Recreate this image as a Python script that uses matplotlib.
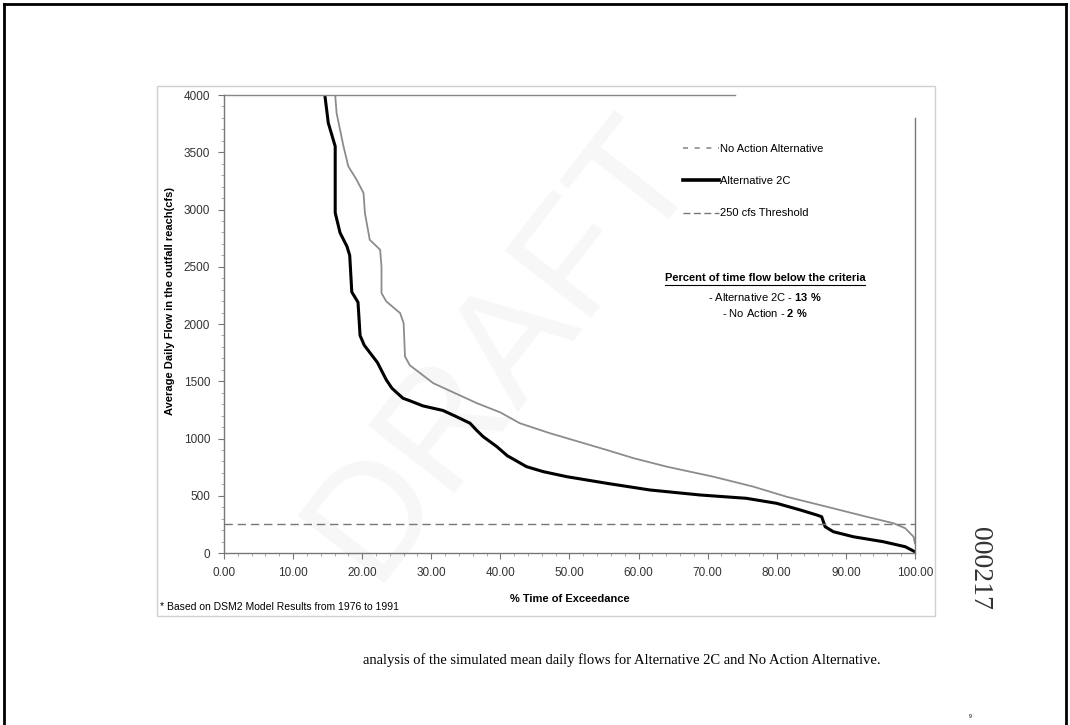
import matplotlib
matplotlib.use("Agg")
import matplotlib.pyplot as plt
from matplotlib.lines import Line2D
from matplotlib.patches import Rectangle
from matplotlib.ticker import MultipleLocator, FormatStrFormatter

plt.rcParams['font.family'] = ['Liberation Sans', 'DejaVu Sans']
plt.rcParams['mathtext.fontset'] = 'custom'
plt.rcParams['mathtext.rm'] = 'Liberation Sans'
plt.rcParams['mathtext.bf'] = 'Liberation Sans:bold'

# exceedance curves
alt2c_x = [14.6, 15.1, 16.1, 16.1, 16.8, 17.8, 18.2, 18.5, 19.4, 19.7, 20.3, 22.2,
           23.5, 24.3, 25.9, 26.9, 28.8, 31.7, 33.5, 35.6, 36.6, 37.5, 39.5, 41.0,
           43.8, 46.2, 49.6, 55.4, 61.6, 68.9, 75.6, 80.0, 83.4, 85.8, 86.5, 87.0,
           88.2, 91.1, 95.4, 98.6, 100.0]
alt2c_y = [4000, 3756, 3552, 2972, 2797, 2678, 2600, 2280, 2190, 1900, 1815, 1665,
           1512, 1440, 1352, 1330, 1285, 1245, 1195, 1134, 1070, 1017, 929, 850,
           754, 711, 667, 609, 551, 507, 478, 434, 376, 332, 317, 230,
           186, 142, 99, 55, 11]

noaction_x = [16.1, 16.3, 17.3, 18.0, 19.2, 20.2, 20.4, 21.1, 22.6, 22.8, 22.8, 23.5,
              25.5, 26.0, 26.2, 26.9, 30.3, 36.6, 40.0, 42.8, 47.2, 55.4, 59.3, 64.1,
              70.8, 76.6, 81.4, 87.2, 93.0, 96.9, 98.6, 99.8, 100.0]
noaction_y = [4000, 3843, 3552, 3377, 3260, 3144, 2969, 2736, 2649, 2503, 2270, 2197,
              2095, 2008, 1716, 1640, 1483, 1309, 1228, 1134, 1046, 900, 828, 754,
              667, 580, 492, 405, 317, 260, 216, 142, 85]

threshold = 250
labels = ['No Action Alternative', 'Alternative 2C', '250 cfs Threshold']

fig = plt.figure(figsize=(10.7, 7.25), dpi=100)
ax = fig.add_axes([0.2093, 0.2372, 0.6458, 0.6317])
ax.set_facecolor('none')

# faint watermark, behind everything
fig.text(0.47, 0.52, 'DRAFT', fontsize=115, color='#f7f7f7', rotation=52,
         ha='center', va='center', zorder=-5)

gray = '#8c8c8c'
ax.plot(noaction_x, noaction_y, color=gray, lw=1.3)
ax.plot(alt2c_x, alt2c_y, color='black', lw=2.2)
ax.axhline(threshold, color='#777777', lw=1.0, dashes=(6, 3.5))

ax.set_xlim(0, 100)
ax.set_ylim(0, 4000)
ax.xaxis.set_major_locator(MultipleLocator(10))
ax.xaxis.set_minor_locator(MultipleLocator(2))
ax.xaxis.set_major_formatter(FormatStrFormatter('%.2f'))
ax.yaxis.set_major_locator(MultipleLocator(500))
ax.yaxis.set_minor_locator(MultipleLocator(100))
ax.tick_params(which='major', length=4, width=0.8, color='#777777',
               labelsize=8.5, labelcolor='#333333', pad=6)
ax.tick_params(which='minor', length=2, width=0.6, color='#999999')

for s in ['top', 'right']:
    ax.spines[s].set_visible(False)
for s in ['left', 'bottom']:
    ax.spines[s].set_color('#777777')
    ax.spines[s].set_linewidth(1.0)
# partial top / right border as in the scan
ax.plot([0, 0.74], [1, 1], transform=ax.transAxes, color='#888888', lw=1.0, clip_on=False)
ax.plot([1, 1], [0, 0.95], transform=ax.transAxes, color='#777777', lw=1.0, clip_on=False)

ax.set_xlabel('% Time of Exceedance', fontsize=8, fontweight='bold', labelpad=11)
ax.set_ylabel('Average Daily Flow in the outfall reach(cfs)', fontsize=8, fontweight='bold')
ax.yaxis.set_label_coords(-0.071, 0.55)

handles = [Line2D([], [], color=gray, lw=1.2, dashes=(3, 4)),
           Line2D([], [], color='black', lw=2.6),
           Line2D([], [], color='#777777', lw=1.0, dashes=(5, 2.5))]
ax.legend(handles, labels, loc='upper left', bbox_to_anchor=(0.65, 0.915),
          frameon=False, fontsize=8, handlelength=3.2, handletextpad=0.1,
          labelspacing=2.0)

hdr = ax.text(0.783, 0.589, 'Percent of time flow below the criteria', transform=ax.transAxes,
              ha='center', va='bottom', fontsize=8, fontweight='bold')
ax.text(0.783, 0.545, r'- Alternative 2C - $\mathbf{13\ \%}$', transform=ax.transAxes,
        ha='center', va='bottom', fontsize=8)
ax.text(0.783, 0.511, r'- No Action - $\mathbf{2\ \%}$', transform=ax.transAxes,
        ha='center', va='bottom', fontsize=8)

# chart area frame
fig.add_artist(Rectangle((157 / 1070, 1 - 616 / 725), (935 - 157) / 1070, (616 - 86) / 725,
                         transform=fig.transFigure, fill=False, ec='#d0d0d0', lw=1.0))
fig.text(160 / 1070, 1 - 607 / 725, '* Based on DSM2 Model Results from 1976 to 1991',
         fontsize=7.5, va='center', ha='left')

fig.text(363 / 1070, 1 - 660 / 725,
         'analysis of the simulated mean daily flows for Alternative 2C and No Action Alternative.',
         fontsize=10.5, family='Liberation Serif', va='center', ha='left')
fig.text(980 / 1070, 1 - 568 / 725, '000217', fontsize=20, family='Liberation Serif',
         rotation=-90, va='center', ha='center', color='#333333')
fig.text(970 / 1070, 1 - 717 / 725, '9', fontsize=4, va='center', ha='center')

# page border
fig.add_artist(Line2D([0.004, 0.004], [0, 0.994], transform=fig.transFigure, color='black', lw=2))
fig.add_artist(Line2D([0.004, 0.996], [0.994, 0.994], transform=fig.transFigure, color='black', lw=2))
fig.add_artist(Line2D([0.996, 0.996], [0.994, 0], transform=fig.transFigure, color='black', lw=2))

# underline for the header
fig.canvas.draw()
bb = hdr.get_window_extent().transformed(ax.transAxes.inverted())
ax.plot([bb.x0, bb.x1], [bb.y0 - 0.004, bb.y0 - 0.004], transform=ax.transAxes,
        color='black', lw=0.8, clip_on=False)

fig.savefig('out.png', dpi=100)
